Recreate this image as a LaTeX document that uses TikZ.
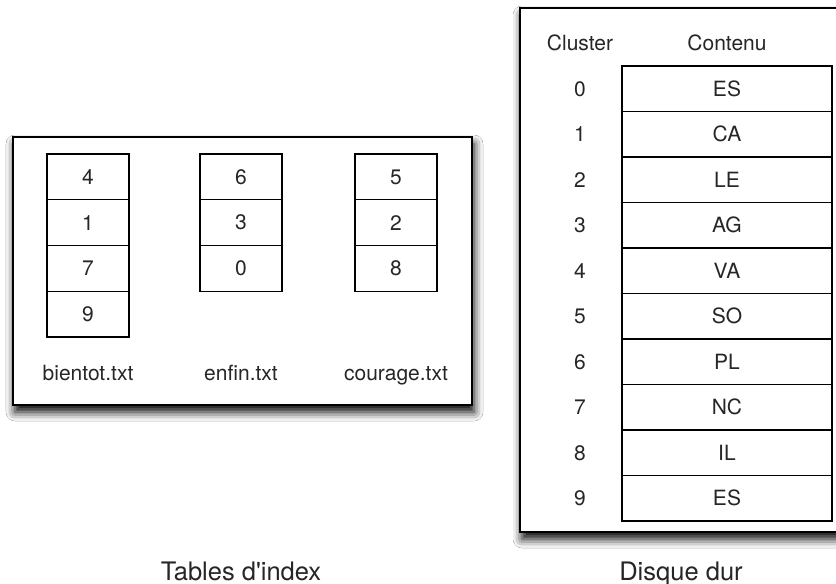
\documentclass[tikz,border=0pt]{standalone}
\usepackage{fontspec}
\setmainfont{TeX Gyre Heros}[Ligatures=TeXOff]
\usetikzlibrary{shadows.blur}
\definecolor{ink}{HTML}{262626}
\begin{document}
\begin{tikzpicture}[x=1pt,y=-1pt,
  lbl/.style={text=ink, inner sep=0pt, font=\fontsize{21}{24}\selectfont},
  caption/.style={text=ink, inner sep=0pt, anchor=base, font=\fontsize{25.5}{28}\selectfont},
  panel/.style={draw=black, line width=1.6pt, fill=white, inner sep=0pt, outer sep=0pt,
    blur shadow={shadow xshift=2pt, shadow yshift=-7pt, shadow blur radius=9pt, shadow opacity=100}},
  cell/.style={lbl, draw=black, line width=1.2pt, outer sep=0pt, minimum width=82pt, minimum height=45.75pt},
  slot/.style={lbl, draw=black, line width=1.2pt, outer sep=0pt, minimum width=210pt, minimum height=45.5pt}]
\useasboundingbox (0,0) rectangle (836,584);
\fill[white] (0,0) rectangle (836,584);

% index tables panel
\node[panel, anchor=north west, minimum width=459pt, minimum height=268pt] (tables) at (13,137) {};
% disk panel (runs past the right edge)
\node[panel, anchor=north west, minimum width=340pt, minimum height=524pt] (disque) at (520,8) {};

% file index tables
\node[cell, anchor=north] (b1) at (88,154) {4};
\node[cell, anchor=north] (b2) at (b1.south) {1};
\node[cell, anchor=north] (b3) at (b2.south) {7};
\node[cell, anchor=north] (b4) at (b3.south) {9};

\node[cell, anchor=north] (e1) at (241,154) {6};
\node[cell, anchor=north] (e2) at (e1.south) {3};
\node[cell, anchor=north] (e3) at (e2.south) {0};

\node[cell, anchor=north] (c1) at (396,154) {5};
\node[cell, anchor=north] (c2) at (c1.south) {2};
\node[cell, anchor=north] (c3) at (c2.south) {8};

\node[lbl, anchor=base] (fb) at (88,380) {bientot.txt};
\node[lbl, anchor=base] (fe) at (241,380) {enfin.txt};
\node[lbl, anchor=base] (fc) at (396,380) {courage.txt};

% disk clusters
\node[lbl, anchor=base] (hcl) at (580,50) {Cluster};
\node[lbl, anchor=base] (hco) at (727,50) {Contenu};
\coordinate (d) at (727,66);
\foreach \i/\t in {0/ES,1/CA,2/LE,3/AG,4/VA,5/SO,6/PL,7/NC,8/IL,9/ES} {
  \node[slot, anchor=north] (d\i) at (d) {\t};
  \node[lbl] (k\i) at ([xshift=-42pt]d\i.west) {\i};
  \coordinate (d) at (d\i.south);
}

% captions
\node[caption] (capt) at (241,580) {Tables d'index};
\node[caption] (capd) at (681,580) {Disque dur};
\end{tikzpicture}
\end{document}
